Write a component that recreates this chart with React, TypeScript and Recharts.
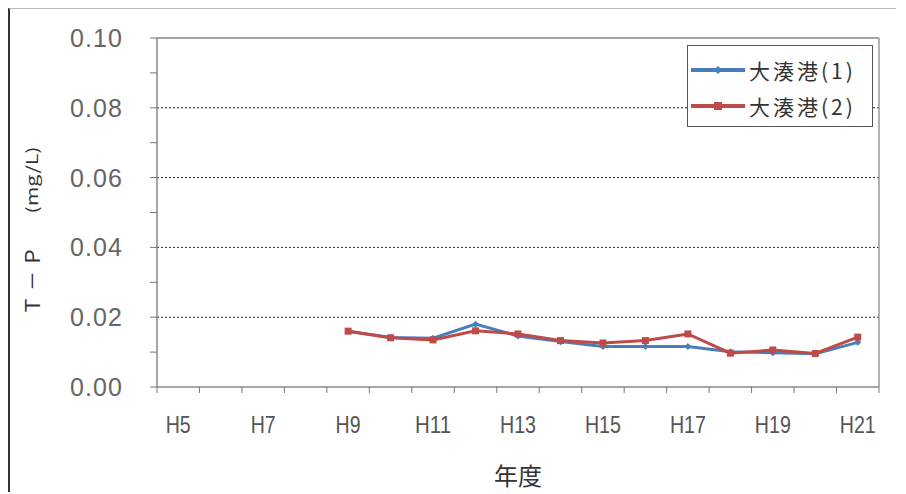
import { LineChart, Line, XAxis, YAxis, ReferenceLine, Legend } from 'recharts';

const years = [5, 6, 7, 8, 9, 10, 11, 12, 13, 14, 15, 16, 17, 18, 19, 20, 21];
const port1 = [null, null, null, null, 0.016, 0.0142, 0.014, 0.018, 0.0146, 0.013, 0.0116, 0.0116, 0.0116, 0.0101, 0.0098, 0.0095, 0.0128];
const port2 = [null, null, null, null, 0.016, 0.0141, 0.0135, 0.0161, 0.0152, 0.0133, 0.0126, 0.0133, 0.0152, 0.0097, 0.0106, 0.0096, 0.0143];
const seriesNames = ['大湊港(1)', '大湊港(2)'];
const yTicks = [0, 0.01, 0.02, 0.03, 0.04, 0.05, 0.06, 0.07, 0.08, 0.09, 0.1];
const gridValues = [0.02, 0.04, 0.06, 0.08];
const xTicks = [4.5, 5, 5.5, 6.5, 7, 7.5, 8.5, 9, 9.5, 10.5, 11, 11.5, 12.5, 13, 13.5, 14.5, 15, 15.5, 16.5, 17, 17.5, 18.5, 19, 19.5, 20.5, 21, 21.5];

const data = years.map((y, i) => ({ year: y, p1: port1[i], p2: port2[i] }));

const BLUE = '#4a7ebb';
const RED = '#be4b48';
const FONT = '"Noto Sans CJK JP", "Noto Sans", sans-serif';
const NARROW = "'Liberation Sans Narrow', 'Liberation Sans', sans-serif";

const XTick = ({ x, y, payload }) => {
  const v = payload.value;
  if (v % 1 !== 0) {
    return <line x1={x} x2={x} y1={y} y2={y + 6} stroke="#777" strokeWidth={1} />;
  }
  if (v % 2 === 0) return null;
  const label = `H${v}`;
  return (
    <text
      x={x}
      y={y + 46}
      textAnchor="middle"
      fontSize={24}
      fill="#555"
      fontFamily={NARROW}
      textLength={14 + 11 * (label.length - 1)}
      lengthAdjust="spacingAndGlyphs"
    >
      {label}
    </text>
  );
};

const YTick = ({ x, y, payload }) => {
  const v = payload.value;
  if (Math.round(v * 100) % 2 !== 0) return null;
  return (
    <text
      x={x}
      y={y + 9}
      textAnchor="end"
      fontSize={25}
      fill="#666"
      fontFamily={NARROW}
      textLength={52}
      lengthAdjust="spacing"
    >
      {v.toFixed(2)}
    </text>
  );
};

const BlueDot = ({ cx, cy }) =>
  cx == null || cy == null ? null : (
    <path d={`M${cx},${cy - 3.5} L${cx + 3.5},${cy} L${cx},${cy + 3.5} L${cx - 3.5},${cy} Z`} fill={BLUE} />
  );

const RedDot = ({ cx, cy }) =>
  cx == null || cy == null ? null : <rect x={cx - 3.5} y={cy - 3.5} width={7} height={7} fill={RED} />;

const LegendBox = () => (
  <div
    style={{
      border: '1.5px solid #555',
      background: '#fff',
      width: 186,
      height: 82,
      boxSizing: 'border-box',
      padding: '6px 0 0 3px',
      fontFamily: FONT,
      fontSize: 21,
      color: '#333',
      whiteSpace: 'nowrap',
    }}
  >
    {seriesNames.map((name, i) => (
      <div key={name} style={{ display: 'flex', alignItems: 'center', height: 36 }}>
        <svg width={56} height={12}>
          <line x1={0} x2={54} y1={6} y2={6} stroke={i === 0 ? BLUE : RED} strokeWidth={4} />
          {i === 0 ? (
            <path d="M27,2 L31,6 L27,10 L23,6 Z" fill={BLUE} />
          ) : (
            <rect x={23} y={2} width={8} height={8} fill={RED} />
          )}
        </svg>
        <span style={{ marginLeft: 2, letterSpacing: 3 }}>{name}</span>
      </div>
    ))}
  </div>
);

const YLabel = ({ viewBox }) => {
  const cx = viewBox.x - 66;
  const cy = viewBox.y + viewBox.height / 2 + 18;
  return (
    <g transform={`translate(${cx},${cy}) rotate(-90)`} fill="#333" fontFamily={FONT}>
      <text x={-85} y={0} dominantBaseline="central" fontSize={20} textLength={69} lengthAdjust="spacing">
        Ｔ－Ｐ
      </text>
      <text x={17} y={0} dominantBaseline="central" fontSize={16} textLength={67} lengthAdjust="spacingAndGlyphs">
        (mg/L)
      </text>
    </g>
  );
};

const XLabel = ({ viewBox }) => (
  <text
    x={viewBox.x + viewBox.width / 2}
    y={viewBox.y + 98}
    textAnchor="middle"
    fontSize={24}
    fill="#333"
    fontFamily={FONT}
  >
    年度
  </text>
);

export default function App() {
  return (
    <div style={{ width: 888, height: 484, borderLeft: '2px solid #333', borderTop: '1px solid #bbb', boxSizing: 'border-box' }}>
      <style>{'html,body{overflow:hidden}'}</style>
      <LineChart width={886} height={483} data={data} margin={{ top: 29, right: 17, bottom: 6, left: 87 }}>
        {gridValues.map((g) => (
          <ReferenceLine key={g} y={g} stroke="#222" strokeDasharray="2 2" strokeWidth={1} />
        ))}
        <ReferenceLine y={0.1} stroke="#888" strokeWidth={1.5} />
        <ReferenceLine x={21.5} stroke="#999" strokeWidth={1.5} />
        <XAxis
          dataKey="year"
          type="number"
          domain={[4.5, 21.5]}
          ticks={xTicks}
          interval={0}
          tick={<XTick />}
          tickLine={false}
          tickSize={0}
          tickMargin={0}
          axisLine={{ stroke: '#888', strokeWidth: 1.5 }}
          height={99}
          label={<XLabel />}
        />
        <YAxis
          type="number"
          domain={[0, 0.1]}
          ticks={yTicks}
          interval={0}
          width={60}
          tick={<YTick />}
          tickLine={{ stroke: '#777' }}
          tickSize={7}
          tickMargin={28}
          axisLine={{ stroke: '#888', strokeWidth: 1.5 }}
          label={<YLabel />}
        />
        <Legend
          verticalAlign="middle"
          align="center"
          layout="horizontal"
          content={<LegendBox />}
          wrapperStyle={{ top: 36, left: 677, width: 186 }}
        />
        <Line
          type="linear"
          dataKey="p1"
          name={seriesNames[0]}
          stroke={BLUE}
          strokeWidth={3}
          dot={<BlueDot />}
          activeDot={false}
          isAnimationActive={false}
        />
        <Line
          type="linear"
          dataKey="p2"
          name={seriesNames[1]}
          stroke={RED}
          strokeWidth={3}
          dot={<RedDot />}
          activeDot={false}
          isAnimationActive={false}
        />
      </LineChart>
    </div>
  );
}
